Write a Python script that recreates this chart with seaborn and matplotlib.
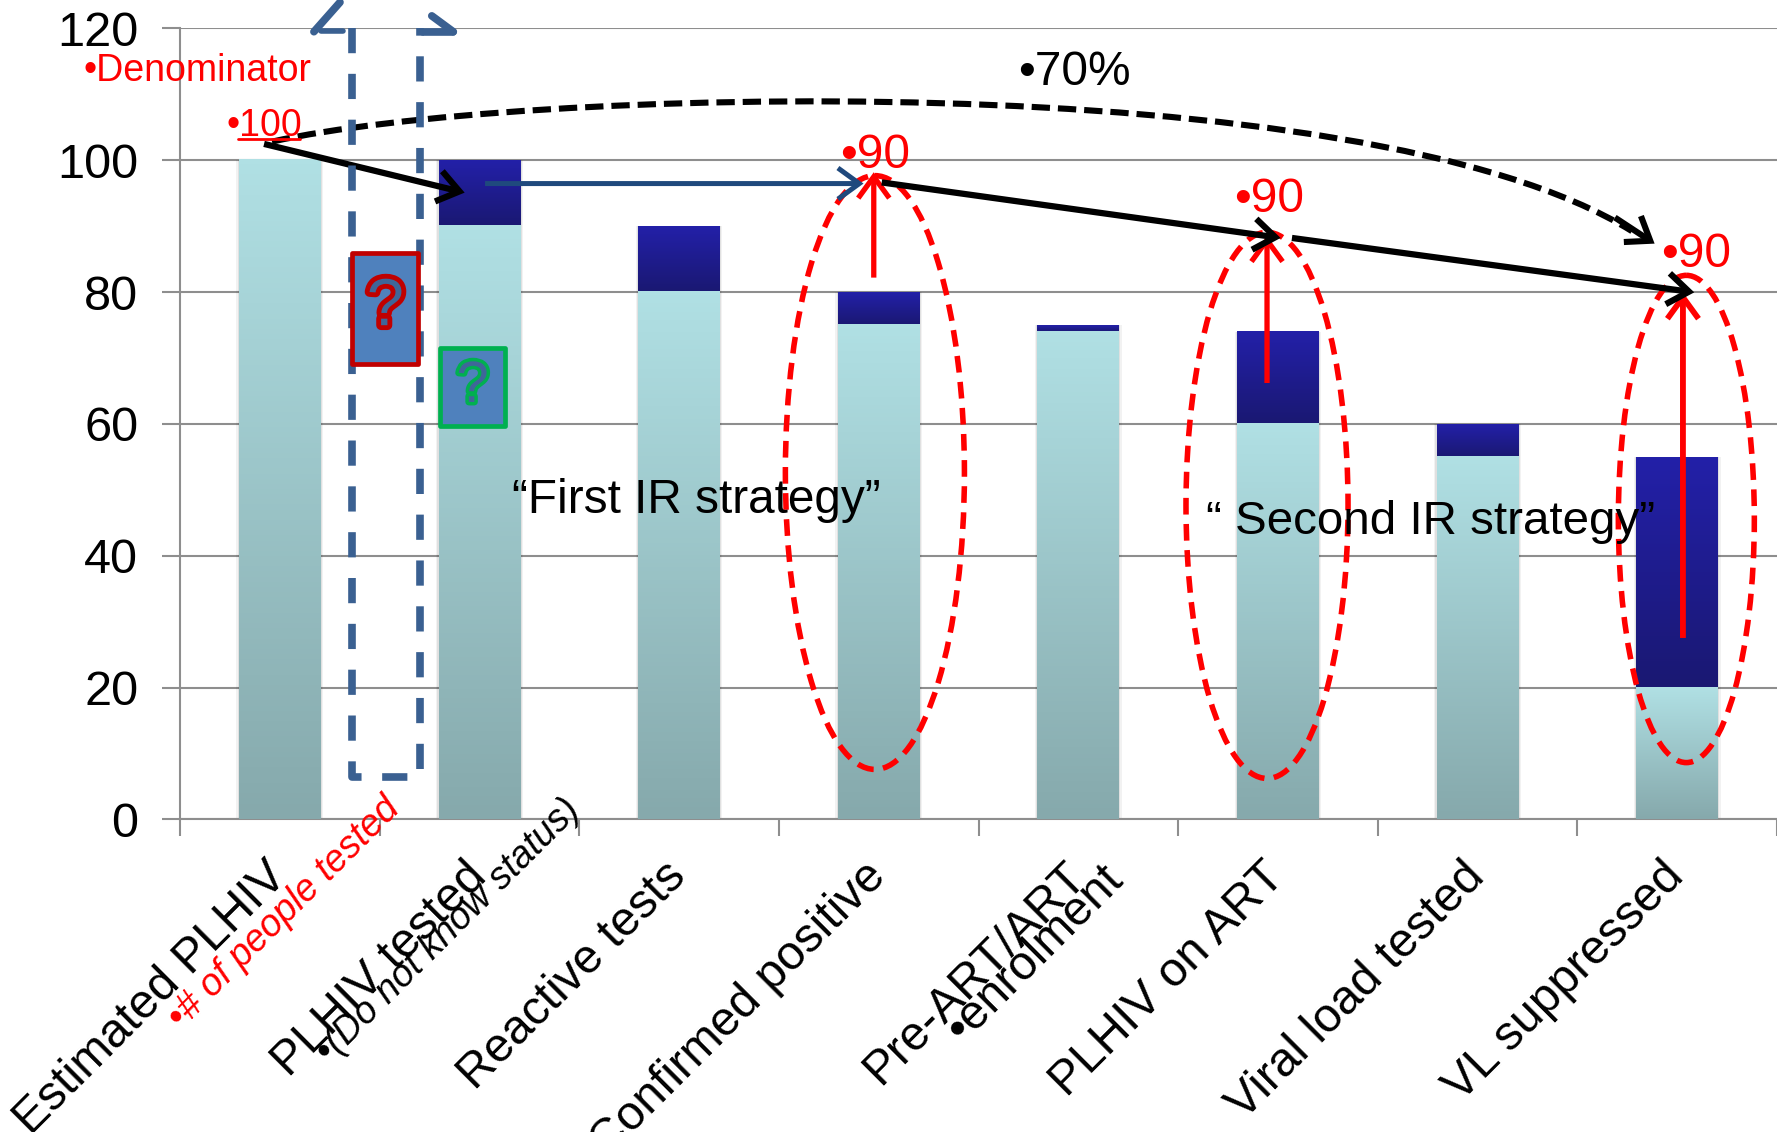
#!/usr/bin/env python3
"""HIV cascade: stacked gradient bars with hand-drawn style slide annotations."""

from __future__ import annotations

import matplotlib

matplotlib.use("Agg")

import matplotlib.pyplot as plt
import matplotlib.patheffects as pe
import numpy as np
import seaborn as sns
from matplotlib.colors import LinearSegmentedColormap
from matplotlib.patches import Ellipse, FancyArrowPatch, PathPatch, Rectangle
from matplotlib.path import Path

CATEGORIES = [
    "Estimated PLHIV",
    "PLHIV tested",
    "Reactive tests",
    "Confirmed positive",
    "Pre-ART/ART",
    "PLHIV on ART",
    "Viral load tested",
    "VL suppressed",
]
ACHIEVED = [100, 90, 80, 75, 74, 60, 55, 20]
GAP = [0, 10, 10, 5, 1, 14, 5, 35]
Y_TICKS = [0, 20, 40, 60, 80, 100, 120]

GRID = "#8e8e8e"
RED = "#ff0000"
BLUE = "#3a6091"
NAVY = "#1f497d"

LIGHT_CMAP = LinearSegmentedColormap.from_list("light", ["#86a9ac", "#b0e0e4"])
DARK_CMAP = LinearSegmentedColormap.from_list("dark", ["#1a1872", "#2320a8"])
GRADIENT = np.linspace(1, 0, 128).reshape(-1, 1)


def paint_gradient(ax, container, bottoms, cmap, zorder):
    """Replace flat bars with a vertical gradient."""
    for patch, bottom in zip(container.patches, bottoms):
        x0 = patch.get_x()
        x1 = x0 + patch.get_width()
        ax.imshow(
            GRADIENT,
            extent=(x0, x1, bottom, patch.get_height()),
            cmap=cmap,
            aspect="auto",
            zorder=zorder,
            origin="upper",
        )


def add_shadow(ax, container):
    """Faint halo on each side of the full bar, like the slide's soft shadow."""
    for patch in container.patches:
        for spread, alpha in [(0.012, 0.05), (0.006, 0.07)]:
            ax.add_patch(
                Rectangle(
                    (patch.get_x() - spread, 0),
                    patch.get_width() + 2 * spread,
                    patch.get_height(),
                    fc="black",
                    ec="none",
                    alpha=alpha,
                    zorder=1.5,
                )
            )


def draw_open_arrow(ov, start, end, color, lw, scale=28):
    ov.add_patch(
        FancyArrowPatch(
            start,
            end,
            arrowstyle="->,head_length=0.55,head_width=0.4",
            mutation_scale=scale,
            color=color,
            lw=lw,
            shrinkA=0,
            shrinkB=0,
            capstyle="butt",
            joinstyle="miter",
        )
    )


def draw_question_box(ov, x, y, w, h, edge, size, stroke):
    ov.add_patch(
        Rectangle((x, y), w, h, fc="#4f81bd", ec=edge, lw=3.4, joinstyle="round", zorder=3)
    )
    ov.text(
        x + w / 2,
        y + h / 2,
        "?",
        ha="center",
        va="center",
        fontsize=size,
        color="#3f6699",
        zorder=4,
        path_effects=[pe.Stroke(linewidth=stroke, foreground=edge), pe.Normal()],
    )


def draw_overlay(fig):
    """Slide shapes live on a full-figure axes, in the reference's 1568x999 coordinates."""
    ov = fig.add_axes([0, 0, 1, 1], facecolor="none")
    ov.set_xlim(0, 1568)
    ov.set_ylim(999, 0)
    ov.axis("off")

    # Dashed bracket around the "unknown status" column
    dash = (0, (3.3, 2.7))
    ov.plot([311, 311, 371, 371], [25, 686, 686, 25], color=BLUE, lw=5.5, ls=dash)
    ov.plot([277, 300], [28, 2], color=BLUE, lw=5.5)
    ov.plot([283, 303], [27, 27], color=BLUE, lw=4)
    ov.plot([373, 400], [28, 28], color=BLUE, lw=5.5)
    ov.plot([381, 400], [14, 28], color=BLUE, lw=5.5)

    draw_question_box(ov, 311, 223, 58, 98, "#c00000", 48, 7)
    draw_question_box(ov, 388, 307, 58, 69, "#00b050", 42, 5)

    # Dashed ellipses around the intervention columns
    for cx, cy, w, h in [(772, 417, 158, 524), (1118, 446, 143, 482), (1488, 458, 120, 430)]:
        ov.add_patch(
            Ellipse((cx, cy), w, h, fill=False, ec=RED, lw=4, ls=(0, (3.0, 1.7)))
        )

    # Flow arrows
    draw_open_arrow(ov, (428, 162), (762, 162), NAVY, 3.6)
    draw_open_arrow(ov, (771, 245), (771, 152), RED, 3.8)
    draw_open_arrow(ov, (1118, 338), (1118, 208), RED, 3.8)
    draw_open_arrow(ov, (1485, 563), (1485, 258), RED, 4.2)
    draw_open_arrow(ov, (233, 127), (410, 170), "black", 4.5)
    draw_open_arrow(ov, (778, 161), (1130, 210), "black", 4.5)
    draw_open_arrow(ov, (1140, 210), (1495, 258), "black", 4.5)

    # Dashed curve for the 70% overall target
    curve = Path(
        [(240, 125), (450, 78), (1200, 55), (1440, 204)],
        [Path.MOVETO, Path.CURVE4, Path.CURVE4, Path.CURVE4],
    )
    ov.add_patch(PathPatch(curve, fill=False, ec="black", lw=4.4, ls=(0, (3.0, 1.3))))
    draw_open_arrow(ov, (1425, 192), (1460, 215), "black", 4.4)

    # Annotation text
    ov.text(74, 63, "•Denominator", color=RED, fontsize=27, va="center")
    ov.text(200, 111, "•100", color=RED, fontsize=27, va="center")
    ov.plot([210, 265], [123, 123], color=RED, lw=2)
    ov.text(898, 64, "•70%", color="black", fontsize=34.5, va="center")
    ov.text(741, 137, "•90", color=RED, fontsize=34.5, va="center")
    ov.text(1089, 176, "•90", color=RED, fontsize=34.5, va="center")
    ov.text(1466, 225, "•90", color=RED, fontsize=34.5, va="center")
    ov.text(452, 442, "“First IR strategy”", color="black", fontsize=34.4, va="center")
    ov.text(1064, 461, "“ Second IR strategy”", color="black", fontsize=34.2, va="center")

    # Second lines of the rotated category labels
    rotated = dict(rotation=45, rotation_mode="anchor", ha="right", va="center")
    ov.text(348, 709, "•# of people tested", color=RED, fontsize=27, style="italic", **rotated)
    ov.text(507, 710, "•(Do not know status)", color="black", fontsize=27, style="italic", **rotated)
    ov.text(985, 770, "•enrolment", color="black", fontsize=34.5, **rotated)
    return ov


def main():
    sns.set_theme(style="white")
    plt.rcParams["font.family"] = ["Liberation Sans", "DejaVu Sans"]

    fig = plt.figure(figsize=(17.77, 11.32), dpi=100)
    left, right = 180 / 1777, 1.0
    bottom, top = 1 - 819.4 / 1132, 1 - 28.3 / 1132
    ax = fig.add_axes([left, bottom, right - left, top - bottom])

    totals = [a + g for a, g in zip(ACHIEVED, GAP)]
    sns.barplot(x=CATEGORIES, y=totals, color=DARK_CMAP(1.0), width=0.41, saturation=1, linewidth=0, ax=ax)
    sns.barplot(x=CATEGORIES, y=ACHIEVED, color=LIGHT_CMAP(1.0), width=0.41, saturation=1, linewidth=0, ax=ax)
    add_shadow(ax, ax.containers[0])
    paint_gradient(ax, ax.containers[0], ACHIEVED, DARK_CMAP, 3)
    paint_gradient(ax, ax.containers[1], [0] * len(CATEGORIES), LIGHT_CMAP, 4)

    n = len(CATEGORIES)
    ax.set_xlim(-0.5, n - 0.5)
    ax.set_ylim(0, 120)
    ax.set_yticks(Y_TICKS)

    # Tick marks sit between the bars, labels under them
    ax.set_xticks(np.arange(n + 1) - 0.5)
    ax.set_xticklabels([])
    ax.set_xticks(np.arange(n), minor=True)
    ax.set_xticklabels(
        CATEGORIES, minor=True, rotation=45, ha="right", va="center", rotation_mode="anchor"
    )
    ax.tick_params(axis="x", which="major", length=12, width=1.5, color=GRID, bottom=True)
    ax.tick_params(axis="x", which="minor", length=0, pad=36, labelsize=34.5, colors="black")
    ax.tick_params(axis="y", length=13, width=1.5, color=GRID, left=True, labelsize=35, pad=17, labelcolor="black")

    ax.grid(axis="y", color=GRID, lw=1.5)
    ax.grid(axis="x", visible=False)
    ax.set_axisbelow(True)
    sns.despine(ax=ax, top=True, right=True)
    for side in ("left", "bottom"):
        ax.spines[side].set_color(GRID)
        ax.spines[side].set_linewidth(1.5)

    draw_overlay(fig)
    fig.savefig("out.png", dpi=100)


if __name__ == "__main__":
    main()
